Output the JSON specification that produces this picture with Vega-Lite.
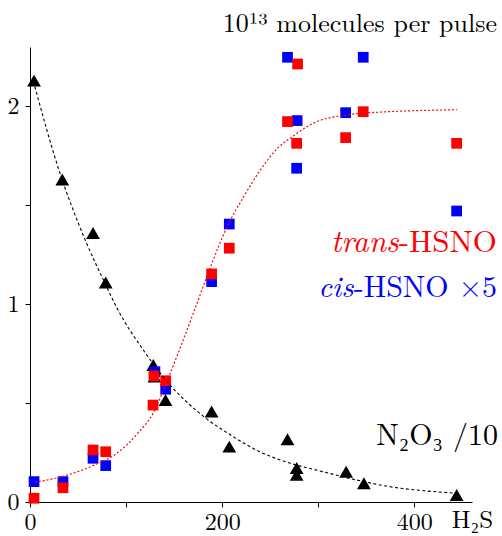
{
  "$schema": "https://vega.github.io/schema/vega-lite/v6.json",
  "width": 442,
  "height": 455,
  "autosize": {"type": "none"},
  "padding": {"left": 30, "top": 47, "right": 30, "bottom": 34},
  "background": "white",
  "config": {"view": {"stroke": null}},
  "datasets": {
    "points": [
      {"x": 4.2, "y": 2.13, "series": "N2O3"},
      {"x": 33.6, "y": 1.63, "series": "N2O3"},
      {"x": 65.6, "y": 1.36, "series": "N2O3"},
      {"x": 78.8, "y": 1.11, "series": "N2O3"},
      {"x": 128.3, "y": 0.693, "series": "N2O3"},
      {"x": 129.5, "y": 0.634, "series": "N2O3"},
      {"x": 141, "y": 0.516, "series": "N2O3"},
      {"x": 189, "y": 0.457, "series": "N2O3"},
      {"x": 207.4, "y": 0.28, "series": "N2O3"},
      {"x": 268, "y": 0.317, "series": "N2O3"},
      {"x": 277.5, "y": 0.172, "series": "N2O3"},
      {"x": 277.5, "y": 0.137, "series": "N2O3"},
      {"x": 329, "y": 0.153, "series": "N2O3"},
      {"x": 347.5, "y": 0.095, "series": "N2O3"},
      {"x": 444, "y": 0.035, "series": "N2O3"},
      {"x": 4.2, "y": 0.103, "series": "cis"},
      {"x": 34.3, "y": 0.103, "series": "cis"},
      {"x": 65.6, "y": 0.221, "series": "cis"},
      {"x": 78.8, "y": 0.184, "series": "cis"},
      {"x": 130, "y": 0.659, "series": "cis"},
      {"x": 141.2, "y": 0.57, "series": "cis"},
      {"x": 189, "y": 1.114, "series": "cis"},
      {"x": 207.4, "y": 1.405, "series": "cis"},
      {"x": 268, "y": 2.248, "series": "cis"},
      {"x": 278, "y": 1.928, "series": "cis"},
      {"x": 277.5, "y": 1.687, "series": "cis"},
      {"x": 328.5, "y": 1.968, "series": "cis"},
      {"x": 346.8, "y": 2.248, "series": "cis"},
      {"x": 444, "y": 1.471, "series": "cis"},
      {"x": 4.2, "y": 0.019, "series": "trans"},
      {"x": 34.3, "y": 0.072, "series": "trans"},
      {"x": 65.6, "y": 0.263, "series": "trans"},
      {"x": 78.8, "y": 0.254, "series": "trans"},
      {"x": 128, "y": 0.49, "series": "trans"},
      {"x": 129, "y": 0.637, "series": "trans"},
      {"x": 141.2, "y": 0.613, "series": "trans"},
      {"x": 189, "y": 1.153, "series": "trans"},
      {"x": 207.4, "y": 1.283, "series": "trans"},
      {"x": 268, "y": 1.923, "series": "trans"},
      {"x": 278.5, "y": 2.214, "series": "trans"},
      {"x": 277.5, "y": 1.813, "series": "trans"},
      {"x": 328.5, "y": 1.842, "series": "trans"},
      {"x": 346.8, "y": 1.973, "series": "trans"},
      {"x": 444, "y": 1.813, "series": "trans"}
    ],
    "fits": [
      {"x": 5, "y": 2.1, "series": "N2O3fit"},
      {"x": 30, "y": 1.68, "series": "N2O3fit"},
      {"x": 57, "y": 1.33, "series": "N2O3fit"},
      {"x": 78, "y": 1.106, "series": "N2O3fit"},
      {"x": 90, "y": 0.985, "series": "N2O3fit"},
      {"x": 120, "y": 0.754, "series": "N2O3fit"},
      {"x": 139, "y": 0.63, "series": "N2O3fit"},
      {"x": 180, "y": 0.435, "series": "N2O3fit"},
      {"x": 210, "y": 0.335, "series": "N2O3fit"},
      {"x": 240, "y": 0.252, "series": "N2O3fit"},
      {"x": 271, "y": 0.196, "series": "N2O3fit"},
      {"x": 305, "y": 0.153, "series": "N2O3fit"},
      {"x": 340, "y": 0.111, "series": "N2O3fit"},
      {"x": 375, "y": 0.077, "series": "N2O3fit"},
      {"x": 410, "y": 0.057, "series": "N2O3fit"},
      {"x": 444.5, "y": 0.044, "series": "N2O3fit"},
      {"x": 5, "y": 0.1, "series": "transfit"},
      {"x": 33, "y": 0.128, "series": "transfit"},
      {"x": 67, "y": 0.187, "series": "transfit"},
      {"x": 88, "y": 0.238, "series": "transfit"},
      {"x": 112, "y": 0.347, "series": "transfit"},
      {"x": 130, "y": 0.465, "series": "transfit"},
      {"x": 140, "y": 0.58, "series": "transfit"},
      {"x": 172, "y": 0.98, "series": "transfit"},
      {"x": 188, "y": 1.19, "series": "transfit"},
      {"x": 205, "y": 1.39, "series": "transfit"},
      {"x": 222, "y": 1.54, "series": "transfit"},
      {"x": 240, "y": 1.68, "series": "transfit"},
      {"x": 258, "y": 1.79, "series": "transfit"},
      {"x": 274, "y": 1.85, "series": "transfit"},
      {"x": 295, "y": 1.915, "series": "transfit"},
      {"x": 330, "y": 1.957, "series": "transfit"},
      {"x": 365, "y": 1.971, "series": "transfit"},
      {"x": 400, "y": 1.978, "series": "transfit"},
      {"x": 444.5, "y": 1.983, "series": "transfit"}
    ],
    "labels": [
      {"label": "10¹³ molecules per pulse", "lx": 486, "ly": 2.376, "kind": "top"},
      {"label": "trans", "lx": 383.8, "ly": 1.264, "kind": "transit"},
      {"label": "-HSNO", "lx": 486, "ly": 1.264, "kind": "transup"},
      {"label": "cis", "lx": 336.7, "ly": 1.036, "kind": "cisit"},
      {"label": "-HSNO ×5", "lx": 486, "ly": 1.036, "kind": "cisup"},
      {"label": "N₂O₃ /10", "lx": 487, "ly": 0.288, "kind": "n2o3"},
      {"label": "H₂S", "lx": 439, "ly": -0.131, "kind": "h2s"}
    ]
  },
  "layer": [
    {
      "data": {"name": "points"},
      "transform": [{"filter": "datum.series === 'N2O3'"}],
      "mark": {"type": "point", "shape": "triangle-up", "filled": true, "color": "black", "opacity": 1, "size": 190},
      "encoding": {
        "x": {
          "field": "x",
          "type": "quantitative",
          "scale": {"domain": [0, 460], "nice": false, "zero": false},
          "axis": {
            "title": null,
            "grid": false,
            "values": [0, 100, 200, 300, 400],
            "labelExpr": "datum.value % 200 === 0 ? format(datum.value, 'd') : ''",
            "tickSize": 5,
            "labelPadding": 3,
            "labelFontSize": 24,
            "labelFont": "Latin Modern Roman",
            "labelColor": "black",
            "domainColor": "black",
            "tickColor": "black",
            "labelFlush": false,
            "labelOverlap": false,
            "labelBound": false
          }
        },
        "y": {
          "field": "y",
          "type": "quantitative",
          "scale": {"domain": [0, 2.3], "nice": false, "zero": false},
          "axis": {
            "title": null,
            "grid": false,
            "values": [0, 0.5, 1, 1.5, 2],
            "labelExpr": "datum.value % 1 === 0 ? format(datum.value, 'd') : ''",
            "tickSize": 5,
            "labelPadding": 6,
            "labelFontSize": 24,
            "labelFont": "Latin Modern Roman",
            "labelColor": "black",
            "domainColor": "black",
            "tickColor": "black",
            "labelOverlap": false,
            "labelBound": false
          }
        }
      }
    },
    {
      "data": {"name": "points"},
      "transform": [{"filter": "datum.series === 'cis'"}],
      "mark": {"type": "square", "color": "#0000ff", "opacity": 1, "size": 115},
      "encoding": {"x": {"field": "x", "type": "quantitative"}, "y": {"field": "y", "type": "quantitative"}}
    },
    {
      "data": {"name": "points"},
      "transform": [{"filter": "datum.series === 'trans'"}],
      "mark": {"type": "square", "color": "#ff0000", "opacity": 1, "size": 115},
      "encoding": {"x": {"field": "x", "type": "quantitative"}, "y": {"field": "y", "type": "quantitative"}}
    },
    {
      "data": {"name": "fits"},
      "transform": [{"filter": "datum.series === 'N2O3fit'"}],
      "mark": {"type": "line", "color": "black", "strokeWidth": 1.1, "strokeDash": [3, 2.5], "interpolate": "monotone"},
      "encoding": {"x": {"field": "x", "type": "quantitative"}, "y": {"field": "y", "type": "quantitative"}}
    },
    {
      "data": {"name": "fits"},
      "transform": [{"filter": "datum.series === 'transfit'"}],
      "mark": {"type": "line", "color": "#ff0000", "strokeWidth": 1.2, "strokeDash": [2, 2], "interpolate": "monotone"},
      "encoding": {"x": {"field": "x", "type": "quantitative"}, "y": {"field": "y", "type": "quantitative"}}
    },
    {
      "data": {"name": "labels"},
      "transform": [{"filter": "datum.kind === 'top'"}],
      "mark": {"type": "text", "align": "right", "baseline": "alphabetic", "fontSize": 26, "font": "Latin Modern Roman", "color": "black"},
      "encoding": {"x": {"field": "lx", "type": "quantitative"}, "y": {"field": "ly", "type": "quantitative"}, "text": {"field": "label"}}
    },
    {
      "data": {"name": "labels"},
      "transform": [{"filter": "datum.kind === 'transit'"}],
      "mark": {"type": "text", "align": "right", "baseline": "alphabetic", "fontSize": 31, "fontStyle": "italic", "font": "Latin Modern Roman", "color": "#ff0000"},
      "encoding": {"x": {"field": "lx", "type": "quantitative"}, "y": {"field": "ly", "type": "quantitative"}, "text": {"field": "label"}}
    },
    {
      "data": {"name": "labels"},
      "transform": [{"filter": "datum.kind === 'transup'"}],
      "mark": {"type": "text", "align": "right", "baseline": "alphabetic", "fontSize": 31, "font": "Latin Modern Roman", "color": "#ff0000"},
      "encoding": {"x": {"field": "lx", "type": "quantitative"}, "y": {"field": "ly", "type": "quantitative"}, "text": {"field": "label"}}
    },
    {
      "data": {"name": "labels"},
      "transform": [{"filter": "datum.kind === 'cisit'"}],
      "mark": {"type": "text", "align": "right", "baseline": "alphabetic", "fontSize": 30, "fontStyle": "italic", "font": "Latin Modern Roman", "color": "#0000ff"},
      "encoding": {"x": {"field": "lx", "type": "quantitative"}, "y": {"field": "ly", "type": "quantitative"}, "text": {"field": "label"}}
    },
    {
      "data": {"name": "labels"},
      "transform": [{"filter": "datum.kind === 'cisup'"}],
      "mark": {"type": "text", "align": "right", "baseline": "alphabetic", "fontSize": 30, "font": "Latin Modern Roman", "color": "#0000ff"},
      "encoding": {"x": {"field": "lx", "type": "quantitative"}, "y": {"field": "ly", "type": "quantitative"}, "text": {"field": "label"}}
    },
    {
      "data": {"name": "labels"},
      "transform": [{"filter": "datum.kind === 'n2o3'"}],
      "mark": {"type": "text", "align": "right", "baseline": "alphabetic", "fontSize": 30, "font": "Latin Modern Roman", "color": "black"},
      "encoding": {"x": {"field": "lx", "type": "quantitative"}, "y": {"field": "ly", "type": "quantitative"}, "text": {"field": "label"}}
    },
    {
      "data": {"name": "labels"},
      "transform": [{"filter": "datum.kind === 'h2s'"}],
      "mark": {"type": "text", "align": "left", "baseline": "alphabetic", "fontSize": 25, "font": "Latin Modern Roman", "color": "black"},
      "encoding": {"x": {"field": "lx", "type": "quantitative"}, "y": {"field": "ly", "type": "quantitative"}, "text": {"field": "label"}}
    }
  ]
}
